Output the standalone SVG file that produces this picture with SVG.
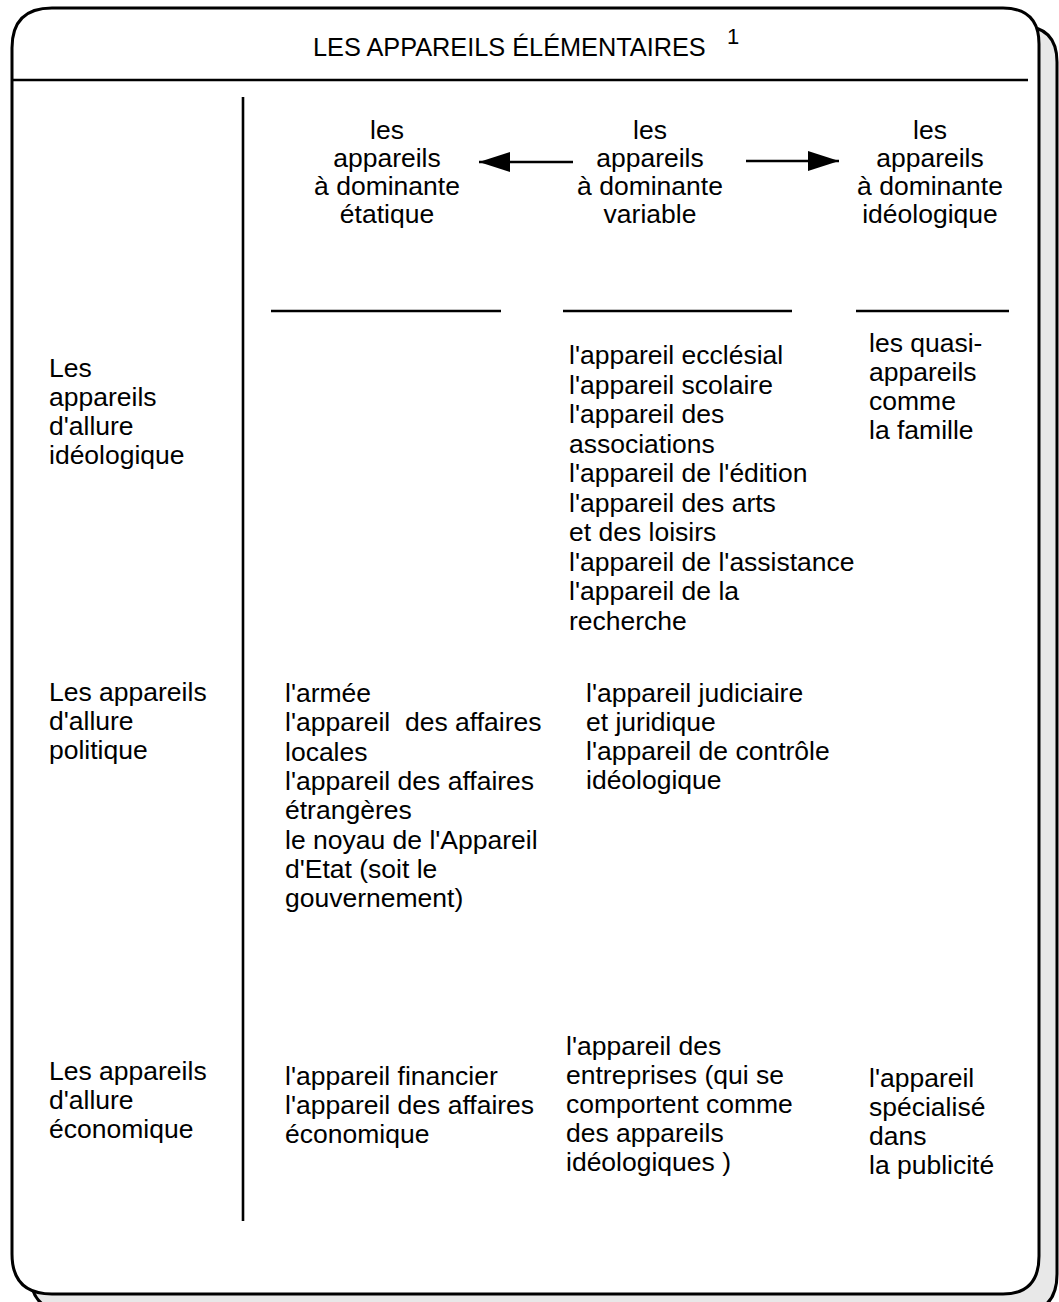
<svg xmlns="http://www.w3.org/2000/svg" width="1059" height="1302" viewBox="0 0 1059 1302">
  <style>
    text { font-family: "Liberation Sans", Arial, sans-serif; font-size: 26.5px; fill: #000; }
    .title { font-size: 25.3px; }
    .sup { font-size: 22px; }
    .hd { text-anchor: middle; }
    .rule { stroke: #000; stroke-width: 2.6; fill: none; }
    .frame { stroke: #000; stroke-width: 3; fill: #fff; }
    .shadow { stroke: #000; stroke-width: 3; fill: #e8e8e8; }
    .conn { stroke: #000; stroke-width: 2.6; fill: none; }
  </style>
  <defs>
    <marker id="head" markerUnits="userSpaceOnUse" markerWidth="32" markerHeight="22" refX="31" refY="11" orient="auto">
      <path d="M0,1 L31,11 L0,21 z" fill="#000"/>
    </marker>
    <path id="box" d="M52,8 H1003 Q1039,8 1039,44 V1256 Q1039,1294 1003,1294 H52 Q12,1294 12,1254 V48 Q12,8 52,8 z"/>
  </defs>

  <!-- frame with offset drop shadow -->
  <g id="frame">
    <use href="#box" class="shadow" transform="translate(18,18)"/>
    <use href="#box" class="frame"/>
    <line class="rule" x1="12" y1="80" x2="1028" y2="80"/>
    <line class="rule" x1="243" y1="97" x2="243" y2="1221"/>
    <line class="rule" x1="271" y1="311" x2="501" y2="311"/>
    <line class="rule" x1="563" y1="311" x2="792" y2="311"/>
    <line class="rule" x1="856" y1="311" x2="1009" y2="311"/>
  </g>

  <g id="title">
    <text class="title" x="313" y="56">LES APPAREILS ÉLÉMENTAIRES</text>
    <text class="sup" x="727" y="44">1</text>
  </g>

  <!-- column headers -->
  <g id="col-etatique">
    <text class="hd" x="387" y="139">les</text>
    <text class="hd" x="387" y="167">appareils</text>
    <text class="hd" x="387" y="195">à dominante</text>
    <text class="hd" x="387" y="223">étatique</text>
  </g>
  <g id="col-variable">
    <text class="hd" x="650" y="139">les</text>
    <text class="hd" x="650" y="167">appareils</text>
    <text class="hd" x="650" y="195">à dominante</text>
    <text class="hd" x="650" y="223">variable</text>
  </g>
  <g id="col-ideologique">
    <text class="hd" x="930" y="139">les</text>
    <text class="hd" x="930" y="167">appareils</text>
    <text class="hd" x="930" y="195">à dominante</text>
    <text class="hd" x="930" y="223">idéologique</text>
  </g>

  <!-- row labels -->
  <g id="row-ideologique">
    <text x="49" y="377">Les</text>
    <text x="49" y="406">appareils</text>
    <text x="49" y="435">d'allure</text>
    <text x="49" y="464">idéologique</text>
  </g>
  <g id="row-politique">
    <text x="49" y="701">Les appareils</text>
    <text x="49" y="730">d'allure</text>
    <text x="49" y="759">politique</text>
  </g>
  <g id="row-economique">
    <text x="49" y="1080">Les appareils</text>
    <text x="49" y="1109">d'allure</text>
    <text x="49" y="1138">économique</text>
  </g>

  <!-- cells: idéologique row -->
  <g id="cell-ideo-variable">
    <text x="569" y="364">l'appareil ecclésial</text>
    <text x="569" y="393.5">l'appareil scolaire</text>
    <text x="569" y="423">l'appareil des</text>
    <text x="569" y="452.5">associations</text>
    <text x="569" y="482">l'appareil de l'édition</text>
    <text x="569" y="511.5">l'appareil des arts</text>
    <text x="569" y="541">et des loisirs</text>
    <text x="569" y="570.5">l'appareil de l'assistance</text>
    <text x="569" y="600">l'appareil de la</text>
    <text x="569" y="629.5">recherche</text>
  </g>
  <g id="cell-ideo-ideologique">
    <text x="869" y="352">les quasi-</text>
    <text x="869" y="381">appareils</text>
    <text x="869" y="410">comme</text>
    <text x="869" y="439">la famille</text>
  </g>

  <!-- cells: politique row -->
  <g id="cell-pol-etatique">
    <text x="285" y="702">l'armée</text>
    <text x="285" y="731.3" style="white-space:pre">l'appareil  des affaires</text>
    <text x="285" y="760.6">locales</text>
    <text x="285" y="789.9">l'appareil des affaires</text>
    <text x="285" y="819.2">étrangères</text>
    <text x="285" y="848.5">le noyau de l'Appareil</text>
    <text x="285" y="877.8">d'Etat (soit le</text>
    <text x="285" y="907.1">gouvernement)</text>
  </g>
  <g id="cell-pol-variable">
    <text x="586" y="702">l'appareil judiciaire</text>
    <text x="586" y="731">et juridique</text>
    <text x="586" y="760">l'appareil de contrôle</text>
    <text x="586" y="789">idéologique</text>
  </g>

  <!-- cells: économique row -->
  <g id="cell-eco-etatique">
    <text x="285" y="1085">l'appareil financier</text>
    <text x="285" y="1114">l'appareil des affaires</text>
    <text x="285" y="1143">économique</text>
  </g>
  <g id="cell-eco-variable">
    <text x="566" y="1055">l'appareil des</text>
    <text x="566" y="1084">entreprises (qui se</text>
    <text x="566" y="1113">comportent comme</text>
    <text x="566" y="1142">des appareils</text>
    <text x="566" y="1171">idéologiques )</text>
  </g>
  <g id="cell-eco-ideologique">
    <text x="869" y="1087">l'appareil</text>
    <text x="869" y="1116">spécialisé</text>
    <text x="869" y="1145">dans</text>
    <text x="869" y="1174">la publicité</text>
  </g>

  <!-- connectors: variable column points to both poles -->
  <g id="connectors">
    <line class="conn" x1="573" y1="162" x2="479" y2="162" marker-end="url(#head)"/>
    <line class="conn" x1="746" y1="161" x2="839" y2="161" marker-end="url(#head)"/>
  </g>
</svg>
